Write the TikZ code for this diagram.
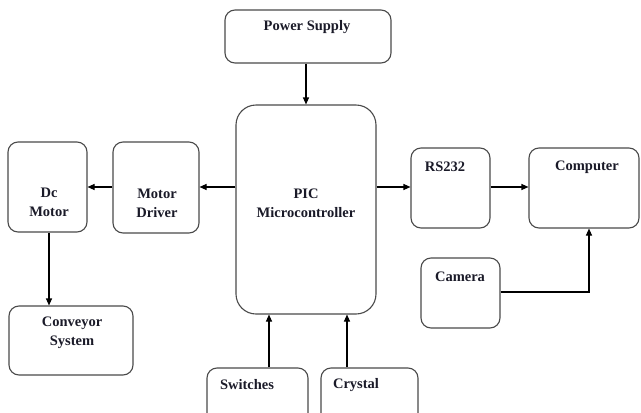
\documentclass[tikz,border=0pt]{standalone}
\usepackage{fontspec}
\setmainfont{Liberation Serif}
\usetikzlibrary{arrows.meta}
\definecolor{edge}{HTML}{4A4A4A}
\definecolor{ink}{HTML}{1A1A28}
\tikzset{
  box/.style={draw=edge, line width=1.1pt, rounded corners=10pt, inner sep=0pt},
  lbl/.style={text=ink, font=\fontsize{14.5}{19}\selectfont\bfseries, align=center, inner sep=0pt},
  conn/.style={draw=black, line width=1.1pt, -{Triangle[length=7pt,width=6pt]}}
}
\begin{document}
\begin{tikzpicture}[x=1pt,y=-1pt]
\useasboundingbox (0,0) rectangle (641,413);
\clip (0,0) rectangle (641,413);
% boxes
\node[box, minimum width=166pt, minimum height=53pt] (ps) at (308,36.5) {};
\node[box, rounded corners=20pt, minimum width=140pt, minimum height=209pt] (pic) at (306,209.5) {};
\node[box, minimum width=86pt, minimum height=91pt] (md) at (156,187.5) {};
\node[box, minimum width=79pt, minimum height=90pt] (dc) at (47.5,187) {};
\node[box, minimum width=124pt, minimum height=69pt] (cv) at (71,340.5) {};
\node[box, minimum width=79pt, minimum height=80pt] (rs) at (450.5,188) {};
\node[box, minimum width=110pt, minimum height=80pt] (cp) at (584,188) {};
\node[box, minimum width=79pt, minimum height=70pt] (cam) at (460.5,293) {};
\node[box, minimum width=101pt, minimum height=57pt] (sw) at (257.5,396.5) {};
\node[box, minimum width=97pt, minimum height=57pt] (cr) at (369.5,396.5) {};
% labels
\node[lbl] (tps) at (307,27) {Power Supply};
\node[lbl] (tpic) at (306,203.5) {PIC\\Microcontroller};
\node[lbl] (tmd) at (157,203.5) {Motor\\Driver};
\node[lbl] (tdc) at (49,202.5) {Dc\\Motor};
\node[lbl] (tcv) at (72,333) {Conveyor\\System};
\node[lbl] (trs) at (445,167) {RS232};
\node[lbl] (tcp) at (587,167) {Computer};
\node[lbl] (tcam) at (460,277) {Camera};
\node[lbl] (tsw) at (247,385) {Switches};
\node[lbl] (tcr) at (356,385) {Crystal};
% connectors
\draw[conn] (ps.south -| 306,0) -- (pic.north -| 306,0);
\draw[conn] (pic.west |- 0,187) -- (md.east |- 0,187);
\draw[conn] (md.west |- 0,187) -- (dc.east |- 0,187);
\draw[conn] (dc.south -| 49,0) -- (cv.north -| 49,0);
\draw[conn] (pic.east |- 0,187) -- (rs.west |- 0,187);
\draw[conn] (rs.east |- 0,187) -- (cp.west |- 0,187);
\draw[conn] (cam.east |- 0,292) -| (cp.south -| 589,0);
\draw[conn] (sw.north -| 269,0) -- (pic.south -| 269,0);
\draw[conn] (cr.north -| 347,0) -- (pic.south -| 347,0);
\end{tikzpicture}
\end{document}
